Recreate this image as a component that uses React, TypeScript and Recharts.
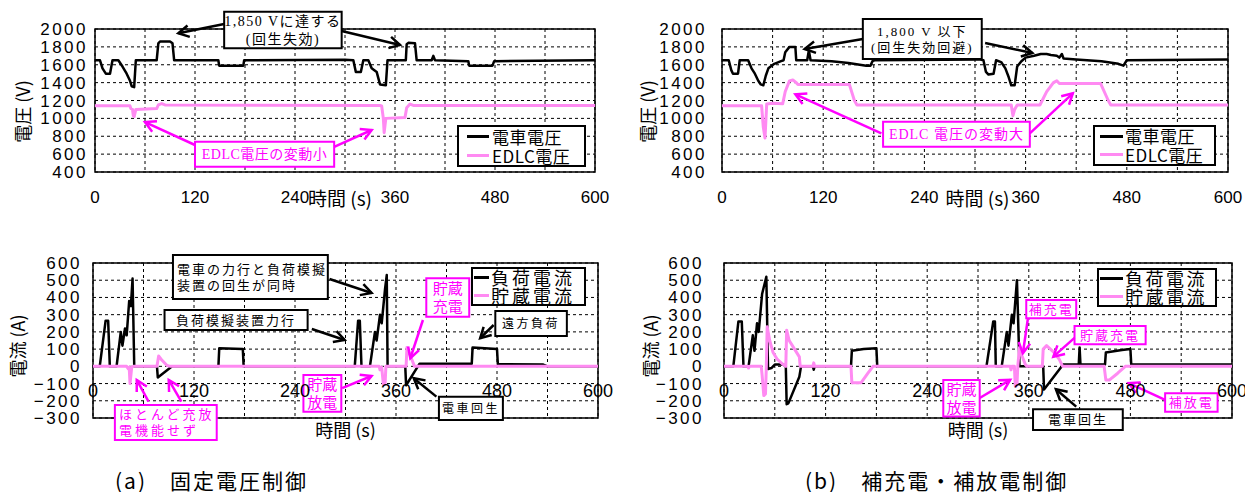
import React from 'react';
import { LineChart, Line, XAxis, YAxis, CartesianGrid, ReferenceArea, ReferenceLine, Legend } from 'recharts';

type Pt = { t: number; v: number };
const toPts = (rows: number[][]): Pt[] => rows.map(([t, v]) => ({ t, v }));

const timeTicks = [0, 60, 120, 180, 240, 300, 360, 420, 480, 540, 600];
const voltTicks = [400, 600, 800, 1000, 1200, 1400, 1600, 1800, 2000];
const ampTicks = [-300, -200, -100, 0, 100, 200, 300, 400, 500, 600];

// (a) 固定電圧制御 - 電圧
const aTrainVoltage = toPts([
  [0, 1650], [6, 1650], [9, 1560], [13, 1500], [18, 1500], [21, 1650], [28, 1650], [33, 1580], [38, 1500],
  [42, 1420], [44, 1360], [47, 1350], [49, 1650], [74, 1650], [76, 1840], [78, 1860], [90, 1860], [93, 1840],
  [95, 1650], [148, 1650], [149, 1590], [178, 1590], [179, 1650], [300, 1655], [310, 1650], [313, 1520],
  [319, 1520], [322, 1650], [328, 1650], [332, 1560], [338, 1520], [342, 1380], [349, 1370], [351, 1650],
  [373, 1650], [374, 1830], [376, 1845], [384, 1840], [386, 1650], [404, 1650], [406, 1700], [408, 1650],
  [448, 1640], [449, 1590], [477, 1590], [479, 1640], [600, 1650],
]);
const aEdlcVoltage = toPts([
  [0, 1140], [42, 1140], [43, 1110], [45, 1100], [46, 1030], [47, 1020], [49, 1100], [74, 1110], [76, 1150],
  [80, 1165], [84, 1150], [342, 1145], [344, 1140], [346, 1000], [347, 840], [349, 1000], [372, 1010],
  [374, 1120], [378, 1160], [382, 1145], [600, 1145],
]);

// (b) 補充電・補放電制御 - 電圧
const bTrainVoltage = toPts([
  [0, 1650], [8, 1650], [11, 1540], [13, 1500], [19, 1500], [21, 1650], [31, 1650], [35, 1560], [39, 1500],
  [43, 1420], [46, 1380], [49, 1370], [52, 1480], [55, 1560], [62, 1610], [70, 1640], [73, 1650], [75, 1740],
  [80, 1800], [87, 1800], [88, 1650], [101, 1650], [103, 1760], [105, 1650], [130, 1640], [150, 1620],
  [171, 1590], [176, 1590], [179, 1650], [305, 1660], [310, 1650], [313, 1520], [316, 1490], [322, 1500],
  [325, 1650], [331, 1630], [336, 1560], [340, 1460], [343, 1370], [347, 1370], [350, 1580], [355, 1640],
  [360, 1680], [370, 1700], [378, 1720], [385, 1720], [390, 1710], [397, 1700], [400, 1680], [403, 1720],
  [405, 1670], [420, 1660], [450, 1640], [470, 1610], [476, 1590], [480, 1650], [600, 1660],
]);
const bEdlcVoltage = toPts([
  [0, 1140], [47, 1140], [49, 900], [51, 780], [53, 1160], [60, 1170], [72, 1165], [75, 1300], [80, 1420],
  [84, 1430], [88, 1400], [90, 1380], [151, 1380], [157, 1200], [160, 1150], [343, 1150], [345, 1030],
  [347, 1100], [350, 1150], [377, 1150], [385, 1300], [393, 1400], [397, 1420], [400, 1390], [449, 1390],
  [458, 1200], [461, 1150], [600, 1150],
]);

// (a) 電流
const aLoadCurrent = toPts([
  [0, 0], [8, 0], [15, 265], [18, 265], [20, 0], [28, 0], [33, 200], [35, 120], [38, 220], [40, 180],
  [43, 380], [45, 350], [47, 510], [49, 0], [76, 0], [77, -65], [94, 0], [149, 0], [150, 105], [178, 100],
  [179, 0], [311, 0], [315, 265], [317, 265], [319, 0], [329, 0], [335, 200], [337, 150], [341, 300],
  [343, 250], [347, 450], [349, 530], [350, 0], [371, 0], [372, -110], [386, 0], [388, 15], [450, 15],
  [451, 110], [480, 100], [481, 12], [535, 10], [540, 0], [600, 0],
]);
const aStorageCurrent = toPts([
  [0, 0], [40, 0], [42, -15], [43, -5], [44, -100], [46, -5], [48, 0], [76, 0], [78, 60], [82, 35], [88, 5],
  [92, 0], [340, 0], [341, -20], [343, -5], [345, -105], [347, -105], [348, 0], [372, 0], [373, 110],
  [378, 50], [382, 0], [600, 0],
]);

// (b) 電流
const bLoadCurrent = toPts([
  [0, 0], [11, 0], [17, 260], [21, 260], [23, 0], [29, 0], [34, 180], [36, 90], [39, 250], [41, 200],
  [45, 420], [50, 520], [52, -15], [56, -10], [60, 10], [70, 10], [73, 0], [74, -220], [76, -215], [89, -60],
  [91, 0], [105, 0], [106, -20], [107, 0], [150, 0], [151, 90], [165, 100], [180, 105], [181, 0], [310, 0],
  [318, 260], [320, 260], [321, 0], [328, 0], [334, 200], [336, 120], [340, 300], [342, 250], [346, 500],
  [349, 0], [377, 0], [378, -135], [399, 0], [400, 10], [419, 10], [420, 110], [421, 10], [450, 10],
  [451, 80], [470, 95], [480, 100], [481, 10], [600, 10],
]);
const bStorageCurrent = toPts([
  [0, 0], [28, 0], [29, -10], [30, 0], [44, 0], [45, -50], [47, -170], [49, -160], [50, 0], [51, 230],
  [54, 150], [58, 80], [63, 40], [70, 10], [73, 0], [74, 210], [77, 150], [82, 110], [89, 55], [90, 0],
  [105, 0], [106, 20], [107, 0], [150, 0], [151, -95], [162, -95], [170, -40], [176, 0], [338, 0],
  [339, -20], [340, 0], [343, 0], [344, -115], [346, -110], [347, 0], [349, 110], [352, 60], [356, 10],
  [358, 0], [376, 0], [377, 100], [381, 120], [390, 80], [396, 40], [400, 0], [449, 0], [451, -80],
  [455, -80], [465, -40], [474, 0], [600, 0],
]);

const BLACK = '#000000';
const PINK = '#ff8af2';
const MAGENTA = '#ff00ff';
const CJK = '"Noto Sans CJK JP", sans-serif';
const ANNO_FONT = '"Liberation Serif", "Noto Sans CJK JP", serif';
const NUM_FONT = '"Liberation Sans", Arial, sans-serif';

type Box = { x1: number; x2: number; y1: number; y2: number; lines: string[]; color: string; size: number; ls: number; align?: 'start' };
type Arrow = { from: [number, number]; to: [number, number]; color: string };

const aVoltBoxes: Box[] = [
  { x1: 155, x2: 296, y1: 1784, y2: 2194, lines: ['1,850 Vに達する', '(回生失効)'], color: BLACK, size: 14, ls: 1.5 },
  { x1: 120, x2: 287, y1: 459, y2: 739, lines: ['EDLC電圧の変動小'], color: MAGENTA, size: 14, ls: 0.5 },
];
const aVoltArrows: Arrow[] = [
  { from: [155, 2056], to: [100, 1952], color: BLACK },
  { from: [296, 1978], to: [366, 1821], color: BLACK },
  { from: [120, 702], to: [60, 959], color: MAGENTA },
  { from: [287, 680], to: [332, 870], color: MAGENTA },
];
const bVoltBoxes: Box[] = [
  { x1: 167, x2: 308, y1: 1664, y2: 2112, lines: ['1,800 V 以下', '(回生失効回避)'], color: BLACK, size: 13, ls: 2 },
  { x1: 191, x2: 365, y1: 683, y2: 963, lines: ['EDLC 電圧の変動大'], color: MAGENTA, size: 14, ls: 1 },
];
const bVoltArrows: Arrow[] = [
  { from: [167, 1888], to: [98, 1776], color: BLACK },
  { from: [312, 1843], to: [368, 1731], color: BLACK },
  { from: [189, 833], to: [87, 1269], color: MAGENTA },
  { from: [365, 833], to: [416, 1280], color: MAGENTA },
];
const aAmpBoxes: Box[] = [
  { x1: 95, x2: 279, y1: 391, y2: 646, lines: ['電車の力行と負荷模擬', '装置の回生が同時'], color: BLACK, size: 13, ls: 2, align: 'start' },
  { x1: 85, x2: 255, y1: 211, y2: 327, lines: ['負荷模擬装置力行'], color: BLACK, size: 13, ls: 2 },
  { x1: 26, x2: 147, y1: -428, y2: -224, lines: ['ほとんど充放', '電機能せず'], color: MAGENTA, size: 13, ls: 3, align: 'start' },
  { x1: 250, x2: 295, y1: -263, y2: -50, lines: ['貯蔵', '放電'], color: MAGENTA, size: 15, ls: 0 },
  { x1: 396, x2: 447, y1: 288, y2: 511, lines: ['貯蔵', '充電'], color: MAGENTA, size: 15, ls: 0 },
  { x1: 411, x2: 487, y1: -312, y2: -176, lines: ['電車回生'], color: BLACK, size: 12, ls: 2.5 },
  { x1: 478, x2: 563, y1: 176, y2: 321, lines: ['遠方負荷'], color: BLACK, size: 12, ls: 2.5 },
];
const aAmpArrows: Arrow[] = [
  { from: [281, 507], to: [331, 426], color: BLACK },
  { from: [260, 217], to: [299, 153], color: BLACK },
  { from: [66, -205], to: [52, -79], color: MAGENTA },
  { from: [105, -205], to: [90, -79], color: MAGENTA },
  { from: [296, -126], to: [331, -56], color: MAGENTA },
  { from: [392, 269], to: [377, 47], color: MAGENTA },
  { from: [408, -176], to: [381, -69], color: BLACK },
  { from: [476, 240], to: [460, 163], color: BLACK },
];
const bAmpBoxes: Box[] = [
  { x1: 357, x2: 416, y1: 279, y2: 385, lines: ['補充電'], color: MAGENTA, size: 13, ls: 2 },
  { x1: 414, x2: 498, y1: 128, y2: 234, lines: ['貯蔵充電'], color: MAGENTA, size: 13, ls: 2 },
  { x1: 259, x2: 302, y1: -292, y2: -79, lines: ['貯蔵', '放電'], color: MAGENTA, size: 15, ls: 0 },
  { x1: 365, x2: 471, y1: -370, y2: -249, lines: ['電車回生'], color: BLACK, size: 13, ls: 2 },
  { x1: 521, x2: 583, y1: -263, y2: -157, lines: ['補放電'], color: MAGENTA, size: 13, ls: 2 },
];
const bAmpArrows: Arrow[] = [
  { from: [359, 279], to: [353, 76], color: MAGENTA },
  { from: [414, 165], to: [389, 56], color: MAGENTA },
  { from: [302, -184], to: [338, -79], color: MAGENTA },
  { from: [416, -234], to: [392, -133], color: BLACK },
  { from: [521, -195], to: [478, -98], color: MAGENTA },
];

const fmtNum = (v: number) => (v < 0 ? `−${-v}` : `${v}`);

const boxLabel = (b: Box) => (props: any) => {
  const vb = props.viewBox;
  if (!vb) return null;
  const n = b.lines.length;
  const lh = b.size * 1.22;
  const cy = vb.y + vb.height / 2;
  const y0 = cy - ((n - 1) * lh) / 2 + b.size * 0.36;
  const start = b.align === 'start';
  const x = start ? vb.x + 4 : vb.x + vb.width / 2;
  return (
    <text fill={b.color} fontSize={b.size} fontFamily={ANNO_FONT} letterSpacing={b.ls} textAnchor={start ? 'start' : 'middle'}>
      {b.lines.map((l, i) => (
        <tspan key={i} x={x} y={y0 + i * lh}>{l}</tspan>
      ))}
    </text>
  );
};

const arrowShape = (color: string) => (p: any) => {
  const { x1, y1, x2, y2 } = p;
  if ([x1, y1, x2, y2].some((v) => typeof v !== 'number')) return <g />;
  const ang = Math.atan2(y2 - y1, x2 - x1);
  const L = 12;
  const a = 0.5;
  const ax = x2 - L * Math.cos(ang - a);
  const ay = y2 - L * Math.sin(ang - a);
  const bx = x2 - L * Math.cos(ang + a);
  const by = y2 - L * Math.sin(ang + a);
  return (
    <g>
      <line x1={x1} y1={y1} x2={x2} y2={y2} stroke={color} strokeWidth={2.5} />
      <polyline points={`${ax},${ay} ${x2},${y2} ${bx},${by}`} fill="none" stroke={color} strokeWidth={2.5} strokeLinejoin="miter" />
    </g>
  );
};

const yLabel = (text: string, dx: number, dy: number) => (props: any) => {
  const vb = props.viewBox;
  if (!vb) return null;
  const cx = vb.x + dx;
  const cy = vb.y + vb.height / 2 + dy;
  return (
    <text x={cx} y={cy} transform={`rotate(-90 ${cx} ${cy})`} textAnchor="middle" dominantBaseline="central" fontSize={18} fontFamily={CJK} fill="#000">
      {text}
    </text>
  );
};

const xLabel = (frac: number, dy: number, size: number) => (props: any) => {
  const vb = props.viewBox;
  if (!vb) return null;
  return (
    <text x={vb.x + vb.width * frac} y={vb.y + dy} textAnchor="middle" dominantBaseline="central" fontSize={size} fontFamily={CJK} fill="#000">
      時間 (s)
    </text>
  );
};

const AmpTimeTick = (p: any) => {
  const v = p.payload?.value;
  if (v % 120 !== 0) return <g />;
  return (
    <text x={p.x} y={p.y - 21} textAnchor="middle" fontSize={18} fontFamily={NUM_FONT} fill="#000">{v}</text>
  );
};

type LegendCfg = { left: number; top: number; w: number; h: number; fs: number; ls: number; lw: number; gap: number; padLeft: number; rowH: number };

const legendBox = (c: LegendCfg, order: string[]) => (props: any) => {
  const items = [...(props.payload || [])].sort((a: any, b: any) => order.indexOf(a.value) - order.indexOf(b.value));
  return (
    <div style={{ width: c.w, height: c.h, boxSizing: 'border-box', border: '2px solid #000', background: '#fff', paddingLeft: c.padLeft, fontFamily: CJK, fontSize: c.fs, letterSpacing: c.ls, color: '#000' }}>
      {items.map((it: any) => (
        <div key={it.value} style={{ display: 'flex', alignItems: 'center', height: c.rowH, whiteSpace: 'nowrap', lineHeight: `${c.rowH}px` }}>
          <span style={{ display: 'inline-block', width: c.lw, height: 3, background: it.color, marginRight: c.gap }} />
          <span>{it.value}</span>
        </div>
      ))}
    </div>
  );
};

type Series = { name: string; data: Pt[]; color: string; width: number };

type PanelProps = {
  left: number; top: number; width: number; height: number;
  margin: { top: number; right: number; bottom: number; left: number };
  kind: 'volt' | 'amp';
  yTickMargin: number;
  yText: string; yDx: number; yDy: number;
  xFrac: number;
  series: Series[];
  boxes: Box[];
  arrows: Arrow[];
  legend: LegendCfg;
};

const Panel = (p: PanelProps) => {
  const volt = p.kind === 'volt';
  const yDomain: [number, number] = volt ? [400, 2000] : [-300, 600];
  const order = p.series.map((s) => s.name);
  return (
    <div style={{ position: 'absolute', left: p.left, top: p.top }}>
      <LineChart width={p.width} height={p.height} margin={p.margin}>
        <CartesianGrid stroke="#000" strokeDasharray="3 3" strokeWidth={1} />
        {volt ? (
          <XAxis dataKey="t" type="number" domain={[0, 600]} ticks={timeTicks} interval={0} height={35}
            tickLine={false} axisLine={false} tickSize={0} tickMargin={19}
            tickFormatter={(v: number) => (v % 120 === 0 ? `${v}` : '')}
            tick={{ fill: '#000', fontSize: 17, fontFamily: '"Liberation Sans Narrow", "Liberation Sans", sans-serif' }}
            label={xLabel(p.xFrac, 25, 19)} />
        ) : (
          <XAxis dataKey="t" type="number" domain={[0, 600]} ticks={timeTicks} interval={0} height={30}
            tickLine={false} axisLine={false} tickSize={0} tickMargin={0} tick={AmpTimeTick}
            label={xLabel(p.xFrac, 11, 18)} />
        )}
        <YAxis type="number" domain={yDomain} ticks={volt ? voltTicks : ampTicks} interval={0} width={60}
          tickLine={false} axisLine={false} tickSize={0} tickMargin={p.yTickMargin} tickFormatter={fmtNum}
          tick={{ fill: '#000', fontSize: 17, fontFamily: NUM_FONT, letterSpacing: 2.5 }}
          label={yLabel(p.yText, p.yDx, p.yDy)} />
        <ReferenceArea x1={0} x2={600} y1={yDomain[0]} y2={yDomain[1]} fill="none" fillOpacity={0} stroke="#000" strokeWidth={1.5} />
        {p.series.map((s) => (
          <Line key={s.name} name={s.name} data={s.data} dataKey="v" type="linear" stroke={s.color} strokeWidth={s.width}
            dot={false} activeDot={false} isAnimationActive={false} strokeLinejoin="round" />
        ))}
        {p.boxes.map((b, i) => (
          <ReferenceArea key={`b${i}`} x1={b.x1} x2={b.x2} y1={b.y1} y2={b.y2} ifOverflow="visible"
            fill="#fff" fillOpacity={1} stroke={b.color} strokeWidth={2} label={boxLabel(b)} />
        ))}
        {p.arrows.map((a, i) => (
          <ReferenceLine key={`a${i}`} ifOverflow="visible"
            segment={[{ x: a.from[0], y: a.from[1] }, { x: a.to[0], y: a.to[1] }]}
            stroke={a.color} shape={arrowShape(a.color)} />
        ))}
        <Legend layout="vertical" align="center" verticalAlign="middle" content={legendBox(p.legend, order)}
          wrapperStyle={{ left: p.legend.left, top: p.legend.top, width: p.legend.w, height: p.legend.h }} />
      </LineChart>
    </div>
  );
};

const captionStyle: React.CSSProperties = { position: 'absolute', top: 465, fontFamily: CJK, fontSize: 21, letterSpacing: 2, whiteSpace: 'pre', color: '#000' };

const App = () => (
  <div style={{ position: 'relative', width: 1253, height: 500, margin: -8, background: '#fff', overflow: 'hidden' }}>
    <Panel left={0} top={0} width={615} height={215} margin={{ top: 29, right: 20, bottom: 8, left: 35 }}
      kind="volt" yTickMargin={7} yText="電圧 (V)" yDx={-13} yDy={11} xFrac={0.49}
      series={[
        { name: '電車電圧', data: aTrainVoltage, color: BLACK, width: 2.5 },
        { name: 'EDLC電圧', data: aEdlcVoltage, color: PINK, width: 3 },
      ]}
      boxes={aVoltBoxes} arrows={aVoltArrows}
      legend={{ left: 457, top: 125, w: 129, h: 42, fs: 17, ls: 0.5, lw: 22, gap: 3, padLeft: 8, rowH: 19 }} />
    <Panel left={620} top={0} width={630} height={215} margin={{ top: 29, right: 22, bottom: 8, left: 42 }}
      kind="volt" yTickMargin={15} yText="電圧 (V)" yDx={-15} yDy={11} xFrac={0.505}
      series={[
        { name: '電車電圧', data: bTrainVoltage, color: BLACK, width: 2.5 },
        { name: 'EDLC電圧', data: bEdlcVoltage, color: PINK, width: 3 },
      ]}
      boxes={bVoltBoxes} arrows={bVoltArrows}
      legend={{ left: 473, top: 125, w: 123, h: 41, fs: 17, ls: 0.5, lw: 23, gap: 2, padLeft: 5, rowH: 18.5 }} />
    <Panel left={0} top={250} width={620} height={200} margin={{ top: 13, right: 22, bottom: 2, left: 33 }}
      kind="amp" yTickMargin={11} yText="電流 (A)" yDx={-16} yDy={5.5} xFrac={0.5}
      series={[
        { name: '負荷電流', data: aLoadCurrent, color: BLACK, width: 2.5 },
        { name: '貯蔵電流', data: aStorageCurrent, color: PINK, width: 3 },
      ]}
      boxes={aAmpBoxes} arrows={aAmpArrows}
      legend={{ left: 471, top: 17, w: 115, h: 39, fs: 18, ls: 3, lw: 15, gap: 2, padLeft: 1, rowH: 17.5 }} />
    <Panel left={620} top={250} width={630} height={200} margin={{ top: 13, right: 18, bottom: 2, left: 44 }}
      kind="amp" yTickMargin={20} yText="電流 (A)" yDx={-14} yDy={5.5} xFrac={0.5}
      series={[
        { name: '負荷電流', data: bLoadCurrent, color: BLACK, width: 2.5 },
        { name: '貯蔵電流', data: bStorageCurrent, color: PINK, width: 3 },
      ]}
      boxes={bAmpBoxes} arrows={bAmpArrows}
      legend={{ left: 477, top: 18, w: 120, h: 39, fs: 18, ls: 2.5, lw: 23, gap: 2, padLeft: 1, rowH: 17.5 }} />
    <div style={{ ...captionStyle, left: 115 }}>(a)　固定電圧制御</div>
    <div style={{ ...captionStyle, left: 805 }}>(b)　補充電・補放電制御</div>
  </div>
);

export default App;
